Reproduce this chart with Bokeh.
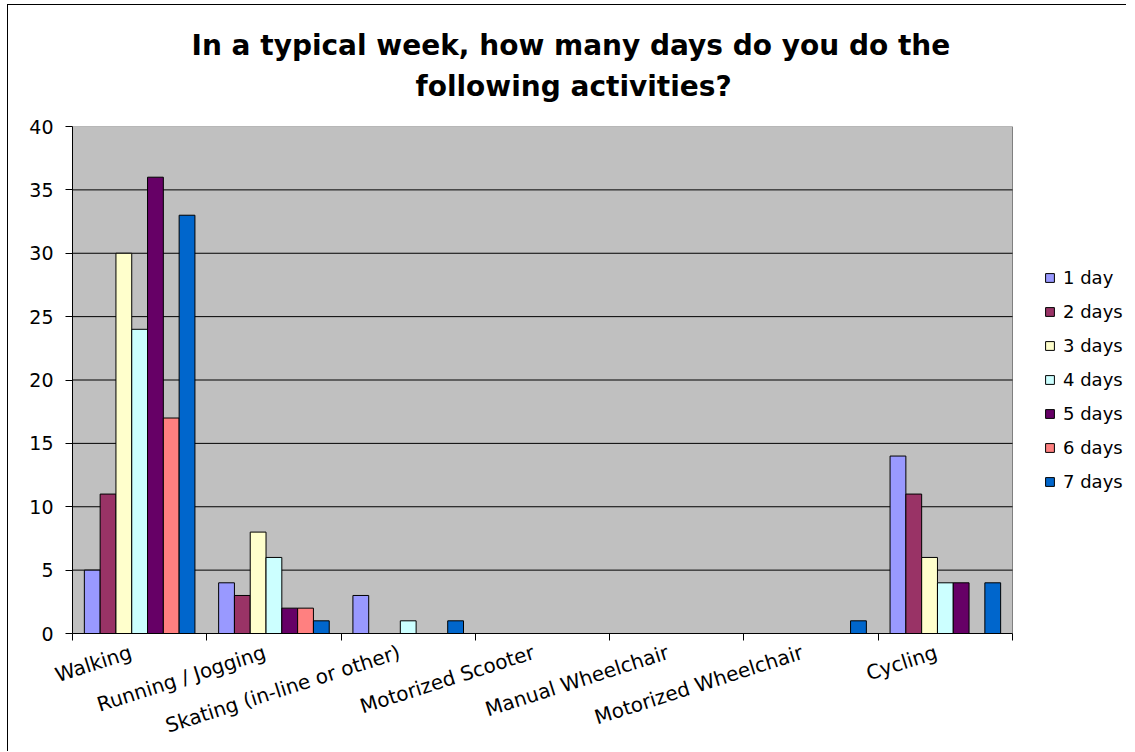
from bokeh.plotting import figure
from bokeh.models import ColumnDataSource, FixedTicker, Legend, LegendItem, Title, Range1d
from bokeh.embed import file_html
from bokeh.resources import INLINE

categories = ["Walking", "Running / Jogging", "Skating (in-line or other)",
              "Motorized Scooter", "Manual Wheelchair", "Motorized Wheelchair", "Cycling"]
series_names = ["1 day", "2 days", "3 days", "4 days", "5 days", "6 days", "7 days"]
colors = ["#9999FF", "#993366", "#FFFFCC", "#CCFFFF", "#660066", "#FF8080", "#0066CC"]

day1 = [5, 4, 3, 0, 0, 0, 14]
day2 = [11, 3, 0, 0, 0, 0, 11]
day3 = [30, 8, 0, 0, 0, 0, 6]
day4 = [24, 6, 1, 0, 0, 0, 4]
day5 = [36, 2, 0, 0, 0, 0, 4]
day6 = [17, 2, 0, 0, 0, 0, 0]
day7 = [33, 1, 1, 0, 0, 1, 4]
series_values = [day1, day2, day3, day4, day5, day6, day7]

y_ticks = [0, 5, 10, 15, 20, 25, 30, 35, 40]

title_line1 = "In a typical week, how many days do you do the"
title_line2 = "following activities?"

FONT = "DejaVu Sans"

# layout (pixels)
FIG_W, FIG_H = 1119, 747
LEFT, RIGHT, TOP, BOTTOM = 64, 0, 121, 117
PLOT_AREA_W = 940           # width of the grey plot area
LABEL_SHIFT = 0.065         # rotated category labels end slightly left of the centre
n_cat = len(categories)
y_max = y_ticks[-1]
x_end = n_cat * (FIG_W - LEFT - RIGHT) / PLOT_AREA_W

p = figure(width=FIG_W, height=FIG_H, output_backend="svg", toolbar_location=None,
           x_range=Range1d(0, x_end), y_range=Range1d(0, y_max),
           min_border_left=LEFT, min_border_right=RIGHT, min_border_top=TOP,
           min_border_bottom=BOTTOM)
p.styles = {"border-left": "1px solid black", "border-top": "1px solid black",
            "margin-left": "7px", "margin-top": "4px"}
p.background_fill_color = "white"
p.border_fill_color = "white"
p.outline_line_color = None

# grey plot area
p.quad(left=[0], right=[n_cat], bottom=[0], top=[y_max],
       fill_color="#C0C0C0", line_color="#808080", line_width=1)
# horizontal gridlines limited to the plot area (inner ticks only)
grid_ticks = y_ticks[1:-1]
p.segment(x0=[0] * len(grid_ticks), x1=[n_cat] * len(grid_ticks), y0=grid_ticks, y1=grid_ticks,
          line_color="black", line_width=1)

n = len(series_names)
bar_w = 1.0 / (n + 1.5)
items = []
for j, (name, vals, col) in enumerate(zip(series_names, series_values, colors)):
    xs = [i + 0.5 + (j - (n - 1) / 2) * bar_w for i, v in enumerate(vals) if v > 0]
    tops = [v for v in vals if v > 0]
    src = ColumnDataSource(dict(x=xs, top=tops))
    r = p.vbar(x="x", top="top", bottom=0, width=bar_w, source=src,
               fill_color=col, line_color="black", line_width=1)
    items.append(LegendItem(label=name, renderers=[r]))

# x axis
label_pos = [i + 0.5 - LABEL_SHIFT for i in range(n_cat)]
p.xaxis.bounds = (0, n_cat)
p.xaxis.ticker = FixedTicker(ticks=label_pos, minor_ticks=list(range(n_cat + 1)))
p.xaxis.major_label_overrides = {t: c for t, c in zip(label_pos, categories)}
p.xaxis.major_tick_line_color = None
p.xaxis.major_tick_out = 0
p.xaxis.minor_tick_out = 7
p.xaxis.minor_tick_in = 0
p.xaxis.minor_tick_line_color = "black"
p.xaxis.major_label_orientation = 0.31
p.xaxis.major_label_standoff = 11
p.xaxis.major_label_text_font = FONT
p.xaxis.major_label_text_font_size = "20px"
p.xaxis.major_label_text_color = "black"
p.xaxis.axis_line_color = "black"

# y axis
p.yaxis.ticker = FixedTicker(ticks=y_ticks)
p.yaxis.major_tick_out = 7
p.yaxis.major_tick_in = 0
p.yaxis.major_tick_line_color = "black"
p.yaxis.minor_tick_line_color = None
p.yaxis.major_label_standoff = 12
p.yaxis.major_label_text_font = FONT
p.yaxis.major_label_text_font_size = "19px"
p.yaxis.major_label_text_color = "black"
p.yaxis.axis_line_color = "black"

p.xgrid.visible = False
p.ygrid.visible = False

legend = Legend(items=items, location=(972, 141), glyph_width=11, glyph_height=11,
                label_standoff=8, spacing=13, label_height=20, margin=0, padding=0,
                border_line_color=None, background_fill_alpha=0,
                label_text_font=FONT, label_text_font_size="18px", label_text_color="black")
p.add_layout(legend, "center")

# titles: stacked from the frame upwards
p.add_layout(Title(text=" ", text_font_size="10px", standoff=8), "above")
p.add_layout(Title(text=title_line2, align="left", offset=343, standoff=5,
                   text_font=FONT, text_font_style="bold", text_font_size="28px",
                   text_color="black"), "above")
p.add_layout(Title(text=title_line1, align="left", offset=119, standoff=7,
                   text_font=FONT, text_font_style="bold", text_font_size="28px",
                   text_color="black"), "above")

open("out.html", "w").write(file_html(p, INLINE))
